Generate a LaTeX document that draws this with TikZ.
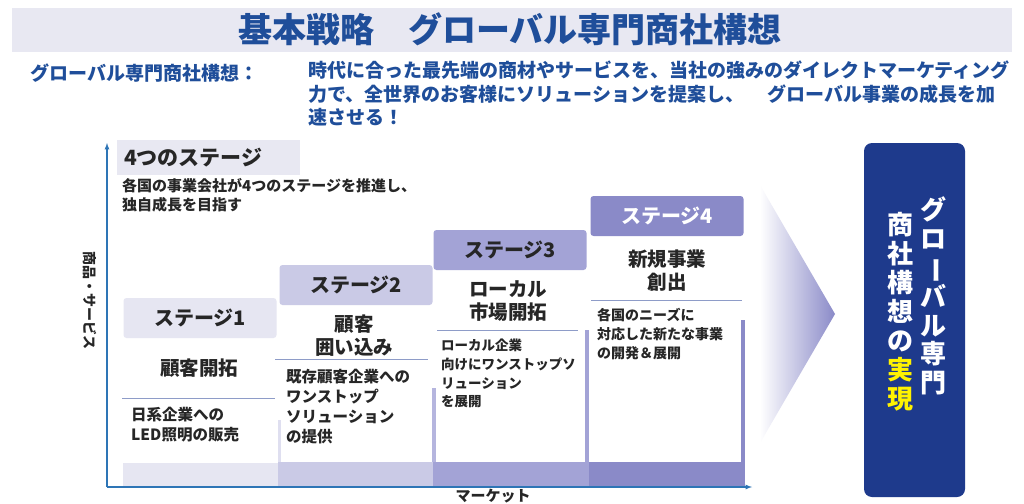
\documentclass[tikz,border=0pt]{standalone}
\usepackage{fontspec}
\setmainfont{Noto Sans CJK JP}
\usetikzlibrary{shadings}
\definecolor{navy}{HTML}{1E3A8C}
\definecolor{ttl}{HTML}{1F4E9A}
\definecolor{axis}{HTML}{2E75B6}
\definecolor{band}{HTML}{E8E8F2}
\definecolor{sa}{HTML}{E6E6F2}
\definecolor{sb}{HTML}{CACAE6}
\definecolor{sc}{HTML}{A3A3D6}
\definecolor{sd}{HTML}{8A8AC8}
\definecolor{ln}{HTML}{8E9CC8}
\definecolor{tx}{HTML}{262626}
\tikzset{
 hdr/.style={rounded corners=3pt, minimum width=153pt, minimum height=40pt, font=\bfseries\fontsize{20}{22}\selectfont, text=tx, inner sep=0},
 ttlt/.style={font=\bfseries\fontsize{19.5}{23}\selectfont, text=tx, align=center},
 body/.style={font=\bfseries\fontsize{15}{19.5}\selectfont, text=tx, align=left, anchor=north west, inner sep=0},
 sep/.style={draw=ln, line width=1pt},
 ax/.style={draw=axis, line width=1.2pt, -latex},
 vt/.style={font=\bfseries\fontsize{25}{28}\selectfont, text=white, align=center, inner sep=0}
}
\newcommand{\vbar}{\rotatebox[origin=c]{-90}{ー}}
\begin{document}
\begin{tikzpicture}[x=1pt,y=-1pt]
\useasboundingbox (0,0) rectangle (1024,503);
\fill[white] (0,0) rectangle (1024,503);
% title
\fill[band] (12,8) rectangle (1012,52);
\node[text=ttl, font=\bfseries\fontsize{34}{36}\selectfont] (title) at (510,29) {基本戦略　グローバル専門商社構想};
\node[anchor=west, text=ttl, font=\bfseries\fontsize{19}{22}\selectfont, inner sep=0] (lead) at (30,73) {グローバル専門商社構想：};
\node[anchor=north west, text=ttl, font=\bfseries\fontsize{19}{23.5}\selectfont, align=left, inner sep=0] (vision) at (308,61)
 {時代に合った最先端の商材やサービスを、当社の強みのダイレクトマーケティング\\力で、全世界のお客様にソリューションを提案し、　 グローバル事業の成長を加\\速させる！};
% bottom bars
\fill[sa] (123,463) rectangle (278,486);
\fill[sb] (278,462) rectangle (433,486);
\fill[sc] (433,462) rectangle (589,486);
\fill[sd] (589,462) rectangle (745,486);
% vertical strips
\fill[sb!60] (278,420) rectangle (281,462);
\fill[sc!80] (432,388) rectangle (436,462);
\fill[sc] (585,330) rectangle (589,462);
\fill[sd] (741,320) rectangle (745,462);
% axes
\coordinate (o) at (107,487);
\coordinate (ytop) at (107,143);
\coordinate (xend) at (752,487);
\draw[ax] (o) -- (ytop);
\draw[ax] (o) -- (xend);
\node[rotate=-90, font=\bfseries\fontsize{14}{15}\selectfont, text=tx] (yl) at (90,300) {商品・サービス};
\node[font=\bfseries\fontsize{15}{16}\selectfont, text=tx, inner sep=0] (xl) at (493,496) {マーケット};
% four stages box
\fill[band] (117,140) rectangle (300,175);
\node[anchor=west, font=\bfseries\fontsize{21}{23}\selectfont, text=tx, inner sep=0] (four) at (124,158) {4つのステージ};
\node[body, font=\bfseries\fontsize{15}{19}\selectfont] (fourd) at (122,178) {各国の事業会社が4つのステージを推進し、\\独自成長を目指す};
% stage 1
\node[hdr, fill=sa] (s1) at (200,318) {ステージ1};
\node[ttlt] (t1) at (199,368) {顧客開拓};
\draw[sep] (122,398) -- (275,398);
\node[body, font=\bfseries\fontsize{15.5}{20}\selectfont] (b1) at (131,407) {日系企業への\\LED照明の販売};
% stage 2
\node[hdr, fill=sb] (s2) at (356,285) {ステージ2};
\node[ttlt] (t2) at (354,336) {顧客\\囲い込み};
\draw[sep] (275,359) -- (428,359);
\node[body, font=\bfseries\fontsize{15.5}{20}\selectfont] (b2) at (286,369) {既存顧客企業への\\ワンストップ\\ソリューション\\の提供};
% stage 3
\node[hdr, fill=sc] (s3) at (510,250) {ステージ3};
\node[ttlt] (t3) at (508,301) {ローカル\\市場開拓};
\draw[sep] (437,330) -- (578,330);
\node[body, font=\bfseries\fontsize{13.5}{18.7}\selectfont] (b3) at (441,339) {ローカル企業\\向けにワンストップソ\\リューション\\を展開};
% stage 4
\node[hdr, fill=sd, text=white] (s4) at (667,216) {ステージ4};
\node[ttlt] (t4) at (667,271) {新規事業\\創出};
\draw[sep] (591,300) -- (742,300);
\node[body, font=\bfseries\fontsize{14}{19}\selectfont] (b4) at (597,308) {各国のニーズに\\対応した新たな事業\\の開発＆展開};
% chevron
\shade[left color=white, right color=sd] (760,185) -- (835,314) -- (760,443) -- cycle;
% result box
\node[fill=navy, rounded corners=8pt, minimum width=101pt, minimum height=354pt, inner sep=0] (res) at (914.5,320) {};
\node[vt, font=\bfseries\fontsize{26}{28.5}\selectfont] (rc1) at (933,296) {グ\\ロ\\\vbar\\バ\\ル\\専\\門};
\node[vt, font=\bfseries\fontsize{26}{29}\selectfont] (rc2) at (900,312) {商\\社\\構\\想\\の\\\textcolor{yellow}{実}\\\textcolor{yellow}{現}};
\end{tikzpicture}
\end{document}
